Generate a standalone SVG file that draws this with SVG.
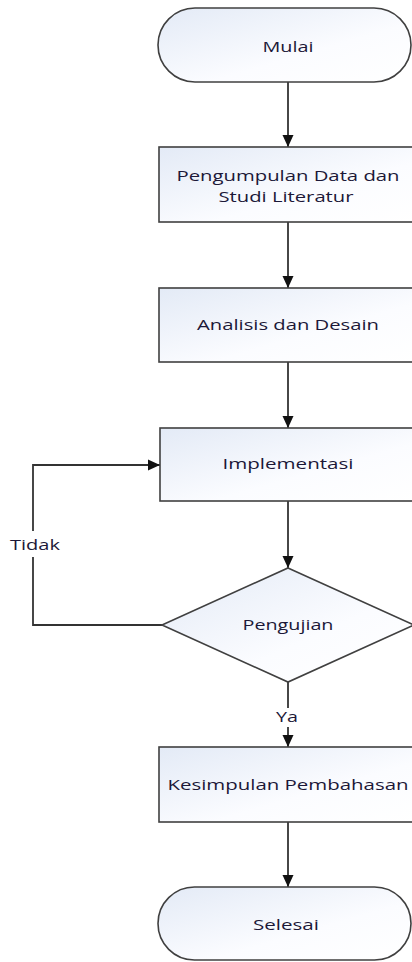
<svg xmlns="http://www.w3.org/2000/svg" width="412" height="962" viewBox="0 0 412 962">
<defs>
<linearGradient id="g" x1="0" y1="0" x2="1" y2="1">
<stop offset="0" stop-color="#e3eaf6"/>
<stop offset="0.6" stop-color="#fbfcff"/>
<stop offset="1" stop-color="#ffffff"/>
</linearGradient>
<marker id="arr" markerUnits="userSpaceOnUse" markerWidth="12" markerHeight="12" refX="12" refY="6" orient="auto">
<path d="M0,0.5 L12,6 L0,11.5 z" fill="#111"/>
</marker>
<style>
.s{fill:url(#g);stroke:#404040;stroke-width:1.6}
.c{fill:none;stroke:#333;stroke-width:1.8}
.t{font-family:"Open Sans","Noto Sans",sans-serif;font-size:15px;fill:#1c1838;text-anchor:middle}
.l{font-family:"Open Sans","Noto Sans",sans-serif;font-size:15px;fill:#1c1838}
</style>
</defs>
<rect width="412" height="962" fill="#fff"/>
<g id="connectors">
<path class="c" d="M288,82 V147" marker-end="url(#arr)"/>
<path class="c" d="M288,222 V288" marker-end="url(#arr)"/>
<path class="c" d="M288,362 V428" marker-end="url(#arr)"/>
<path class="c" d="M288,501 V568" marker-end="url(#arr)"/>
<path class="c" d="M162,625 H33 V557"/>
<path class="c" d="M33,531 V465 H160" marker-end="url(#arr)"/>
<path class="c" d="M288,682 V708"/>
<path class="c" d="M288,727 V747" marker-end="url(#arr)"/>
<path class="c" d="M288,822 V887" marker-end="url(#arr)"/>
<text class="l" x="10" y="550" textLength="50" lengthAdjust="spacingAndGlyphs">Tidak</text>
<text class="t" x="287" y="722" textLength="22" lengthAdjust="spacingAndGlyphs">Ya</text>
</g>
<g id="mulai">
<rect class="s" x="158" y="8" width="253" height="74" rx="37" ry="37"/>
<text class="t" x="288" y="52" textLength="51" lengthAdjust="spacingAndGlyphs">Mulai</text>
</g>
<g id="pengumpulan">
<rect class="s" x="159" y="147" width="258" height="75"/>
<text class="t" x="288" y="181" textLength="223" lengthAdjust="spacingAndGlyphs">Pengumpulan Data dan</text>
<text class="t" x="286" y="202" textLength="135" lengthAdjust="spacingAndGlyphs">Studi Literatur</text>
</g>
<g id="analisis">
<rect class="s" x="159" y="288" width="258" height="74"/>
<text class="t" x="288" y="330" textLength="182" lengthAdjust="spacingAndGlyphs">Analisis dan Desain</text>
</g>
<g id="implementasi">
<rect class="s" x="160" y="428" width="258" height="73"/>
<text class="t" x="288" y="469" textLength="131" lengthAdjust="spacingAndGlyphs">Implementasi</text>
</g>
<g id="pengujian">
<polygon class="s" points="288,568 414,625 288,682 162,625"/>
<text class="t" x="288" y="630" textLength="91" lengthAdjust="spacingAndGlyphs">Pengujian</text>
</g>
<g id="kesimpulan">
<rect class="s" x="159" y="747" width="258" height="75"/>
<text class="t" x="288" y="790" textLength="241" lengthAdjust="spacingAndGlyphs">Kesimpulan Pembahasan</text>
</g>
<g id="selesai">
<rect class="s" x="158" y="887" width="253" height="73" rx="36.5" ry="36.5"/>
<text class="t" x="286" y="930" textLength="66" lengthAdjust="spacingAndGlyphs">Selesai</text>
</g>
</svg>
